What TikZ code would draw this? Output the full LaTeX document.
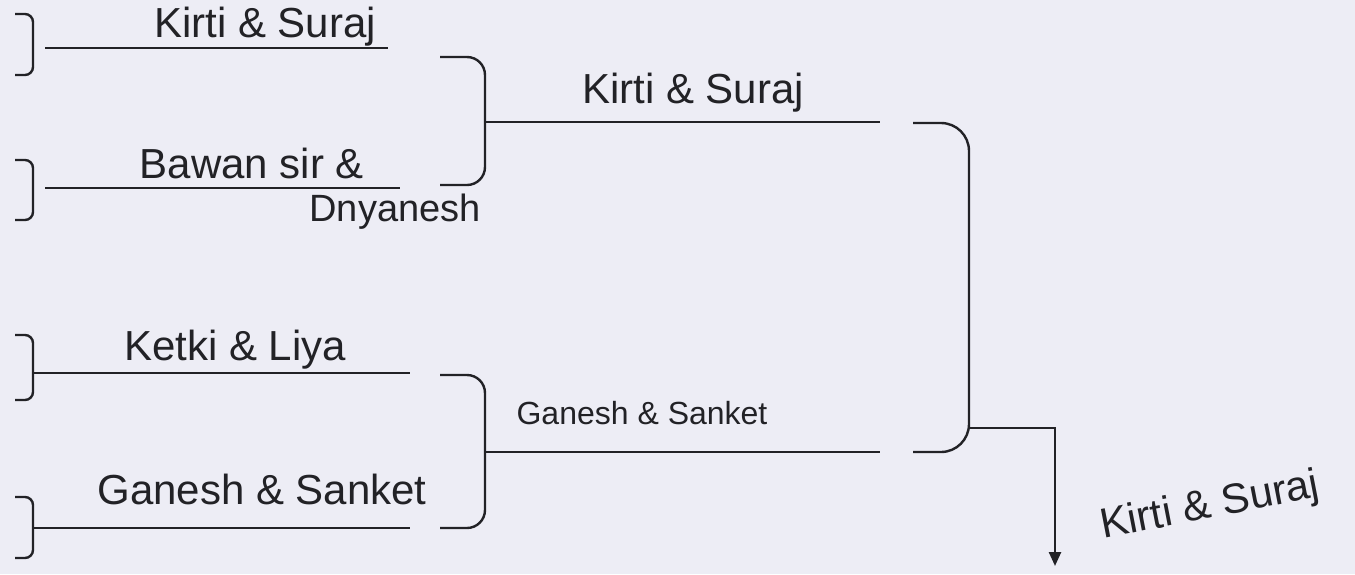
\documentclass[tikz,border=0pt]{standalone}
\usepackage{fontspec}
\setmainfont{Liberation Sans}
\usetikzlibrary{arrows.meta}
\definecolor{paper}{HTML}{EDEDF5}
\definecolor{ink}{HTML}{222226}
\begin{document}
\begin{tikzpicture}[x=0.5pt,y=-0.5pt,
  wire/.style={draw=ink,line width=1.2pt},
  brk/.style={draw=ink,line width=1.2pt,rounded corners=4pt},
  rbrk/.style={draw=ink,line width=1.2pt,rounded corners=9pt},
  bigbrk/.style={draw=ink,line width=1.2pt,rounded corners=14pt},
  lbl/.style={text=ink,inner sep=0pt},
  big/.style={font=\fontsize{21}{23}\selectfont},
  mid/.style={font=\fontsize{19}{21}\selectfont},
  small/.style={font=\fontsize{16}{18}\selectfont}]
\fill[paper] (0,0) rectangle (1355,574);
\useasboundingbox (0,0) rectangle (1355,574);
% left small brackets
\draw[brk] (15,14) -- (33,14) -- (33,75) -- (15,75);
\draw[brk] (15,160) -- (33,160) -- (33,220) -- (15,220);
\draw[brk] (15,335) -- (33,335) -- (33,400) -- (15,400);
\draw[brk] (15,497) -- (33,497) -- (33,558) -- (15,558);
% entrant lines
\coordinate (a1) at (45,48);   \coordinate (a2) at (388,48);
\coordinate (b1) at (45,188);  \coordinate (b2) at (400,188);
\coordinate (c1) at (33,373);  \coordinate (c2) at (410,373);
\coordinate (d1) at (33,528);  \coordinate (d2) at (410,528);
\draw[wire] (a1) -- (a2);
\draw[wire] (b1) -- (b2);
\draw[wire] (c1) -- (c2);
\draw[wire] (d1) -- (d2);
\node[lbl,big] (ta) at (265,27) {Kirti \& Suraj};
\node[lbl,big] (tb) at (252,163) {Bawan sir \&};
\node[lbl,mid] (tb2) at (395,212) {Dnyanesh};
\node[lbl,big] (tc) at (235,350) {Ketki \& Liya};
\node[lbl,big] (td) at (262,489) {Ganesh \& Sanket};
% round-1 brackets
\draw[rbrk] (440,57) -- (485,57) -- (485,185) -- (440,185);
\draw[rbrk] (440,375) -- (485,375) -- (485,528) -- (440,528);
\coordinate (e1) at (485,122); \coordinate (e2) at (880,122);
\coordinate (f1) at (485,452); \coordinate (f2) at (880,452);
\draw[wire] (e1) -- (e2);
\draw[wire] (f1) -- (f2);
\node[lbl,big] (te) at (693,93) {Kirti \& Suraj};
\node[lbl,small] (tf) at (642,413) {Ganesh \& Sanket};
% final bracket
\draw[bigbrk] (913,123) -- (969,123) -- (969,452) -- (913,452);
\coordinate (g0) at (969,428);
\coordinate (g1) at (1055,428);
\coordinate (g2) at (1055,566);
\draw[wire,-{Triangle[length=7pt,width=6pt]}] (g0) -- (g1) -- (g2);
\node[lbl,big,rotate=11] (tg) at (1210,507) {Kirti \& Suraj};
\end{tikzpicture}
\end{document}
